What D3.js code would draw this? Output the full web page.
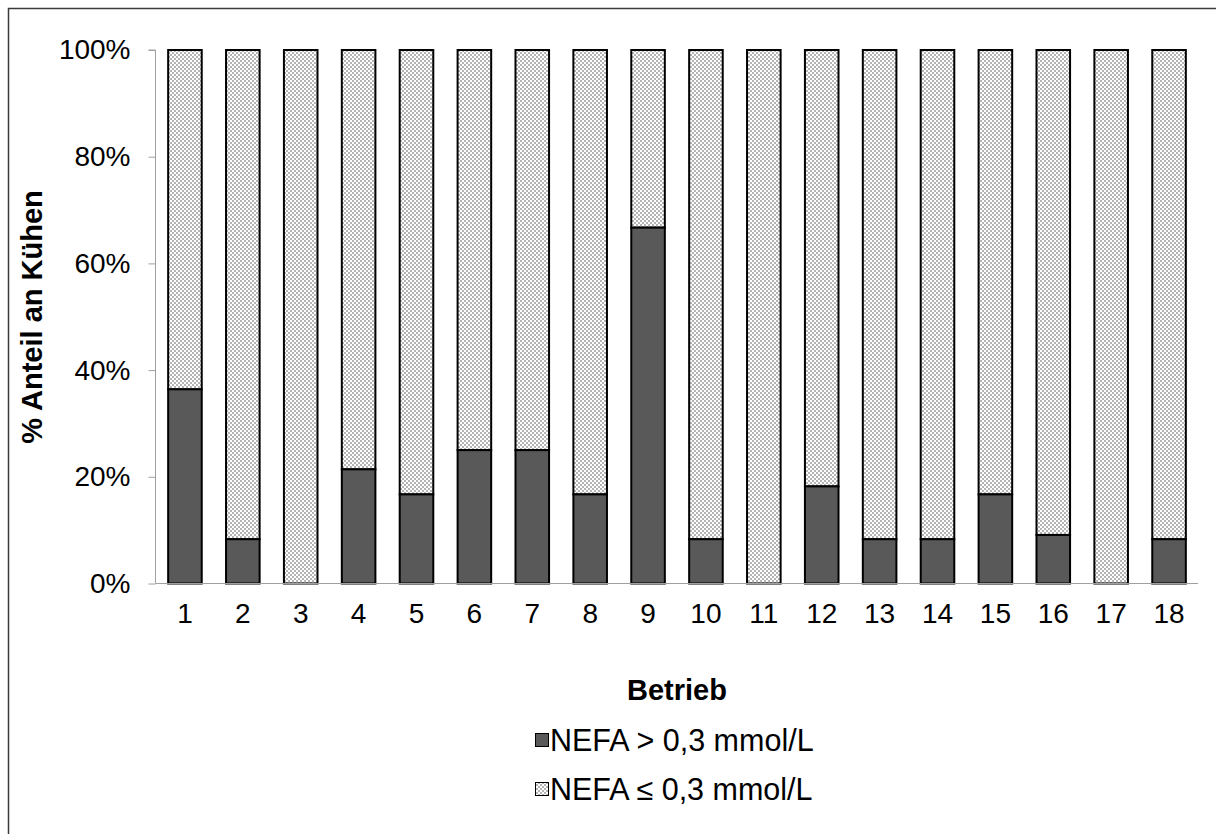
<!DOCTYPE html>
<html><head><meta charset="utf-8">
<script src="https://cdn.jsdelivr.net/npm/d3@7"></script>
<style>body{margin:0;background:#fff}svg{display:block;font-family:"Liberation Sans",Arial,sans-serif}</style>
</head><body><svg id="c" width="1216" height="834"></svg>
<script>
const categories = ["1","2","3","4","5","6","7","8","9","10","11","12","13","14","15","16","17","18"];
const high = [36.4,8.3,0,21.4,16.7,25,25,16.7,66.7,8.3,0,18.2,8.3,8.3,16.7,9.1,0,8.3];
const low = high.map(v => 100 - v);
const seriesNames = ["NEFA > 0,3 mmol/L","NEFA \u2264 0,3 mmol/L"];
const yTicks = [0,20,40,60,80,100];

const svg = d3.select("#c");
const defs = svg.append("defs");
const pat = defs.append("pattern").attr("id","chk").attr("patternUnits","userSpaceOnUse")
  .attr("width",4).attr("height",4);
pat.append("rect").attr("width",4).attr("height",4).attr("fill","#fff");
pat.append("rect").attr("width",2).attr("height",2).attr("fill","#b4b4b4");
pat.append("rect").attr("x",2).attr("y",2).attr("width",2).attr("height",2).attr("fill","#b4b4b4");

svg.append("rect").attr("x",8.5).attr("y",8.5).attr("width",1230).attr("height",850)
  .attr("fill","none").attr("stroke","#3a3a3a").attr("stroke-width",1.5);

const x = d3.scaleBand().domain(categories).range([156,1198]).paddingInner(0.42).paddingOuter(0.21);
const y = d3.scaleLinear().domain([0,100]).range([583.5,50]);

const data = categories.map((c,i)=>({c, h: high[i], l: low[i]}));
const g = svg.append("g");
g.selectAll("rect.low").data(data).join("rect").attr("class","low")
  .attr("x",d=>x(d.c)).attr("width",x.bandwidth())
  .attr("y",d=>y(d.h+d.l)).attr("height",d=>y(d.h)-y(d.h+d.l))
  .attr("fill","url(#chk)").attr("stroke","#000").attr("stroke-width",2);
g.selectAll("rect.high").data(data.filter(d=>d.h>0)).join("rect").attr("class","high")
  .attr("x",d=>x(d.c)).attr("width",x.bandwidth())
  .attr("y",d=>y(d.h)).attr("height",d=>y(0)-y(d.h))
  .attr("fill","#595959").attr("stroke","#000").attr("stroke-width",2);

const FF = "'Liberation Sans',Arial,sans-serif";
// y axis
const ya = svg.append("g").attr("transform","translate(155.5,0)")
  .call(d3.axisLeft(y).tickValues(yTicks).tickFormat(d=>d+"%").tickSize(7).tickPadding(18));
ya.attr("font-size",28).attr("font-family",FF);
ya.select(".domain").attr("stroke","#a0a0a0").attr("d","M-7,50H0V583.5");
ya.selectAll(".tick line").attr("stroke","#a0a0a0");
ya.selectAll(".tick text").attr("fill","#000");

// x axis
const xa = svg.append("g").attr("transform","translate(0,583.5)")
  .call(d3.axisBottom(x).tickSize(0).tickPadding(20));
xa.attr("font-size",28).attr("font-family",FF);
xa.select(".domain").attr("stroke","#a0a0a0").attr("d","M155.5,0H1198");
xa.selectAll(".tick text").attr("fill","#000");

svg.append("text").attr("x",677).attr("y",699.5).attr("text-anchor","middle")
  .attr("font-size",29).attr("font-weight","bold").text("Betrieb");
svg.append("text").attr("transform","translate(42,317) rotate(-90)").attr("text-anchor","middle")
  .attr("font-size",29).attr("font-weight","bold").text("% Anteil an K\u00fchen");

// legend
const lg = svg.append("g");
const fills = ["#595959","url(#chk)"];
seriesNames.forEach((n,i)=>{
  const yy = 740 + i*49;
  lg.append("rect").attr("x",535.5).attr("y",yy-6.5).attr("width",13).attr("height",13)
    .attr("fill",fills[i]).attr("stroke","#000").attr("stroke-width",1);
  lg.append("text").attr("x",550).attr("y",yy+10.5).attr("font-size",30.5).text(n);
});
</script></body></html>
